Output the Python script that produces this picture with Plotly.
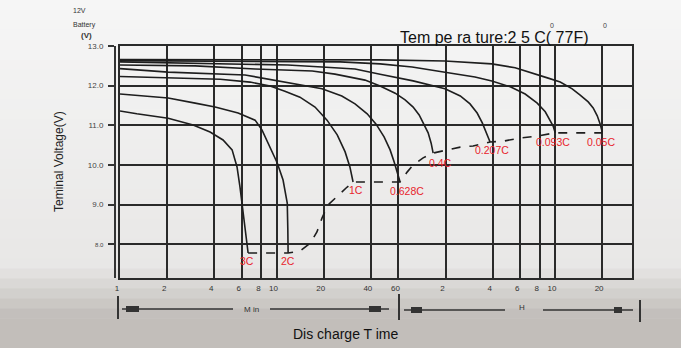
import math
import plotly.graph_objects as go

# ---------------- data (minutes, volts) ----------------
rates = ["3C", "2C", "1C", "0.628C", "0.4C", "0.207C", "0.093C", "0.05C"]

t_3c = [1, 1.28, 2.03, 2.93, 3.76, 4.55, 5.2, 5.59, 5.84, 6.11, 6.48, 6.58]
v_3c = [11.36, 11.29, 11.18, 11.01, 10.83, 10.63, 10.38, 9.95, 9.44, 8.79, 7.93, 7.78]

t_2c = [1, 1.51, 2.03, 3.02, 4.05, 5.68, 7.29, 8.08, 9.09, 10.1, 11.0, 11.7, 11.8, 11.85]
v_2c = [11.79, 11.74, 11.69, 11.56, 11.46, 11.31, 11.13, 10.88, 10.45, 10.05, 9.62, 9.04, 8.36, 7.78]

t_1c = [1, 2.09, 4.36, 6.77, 9.09, 11.3, 14.1, 17.6, 21.0, 24.4, 27.4, 29.4, 30.4, 30.8]
v_1c = [12.23, 12.20, 12.16, 12.09, 11.99, 11.86, 11.71, 11.46, 11.13, 10.76, 10.33, 9.95, 9.67, 9.57]

t_0628c = [1, 2.03, 6.29, 9.5, 14.1, 19.5, 26.1, 31.7, 37.9, 43.2, 48.6, 53.1, 56.3, 58.8, 61.5]
v_0628c = [12.43, 12.34, 12.27, 12.14, 12.02, 11.92, 11.74, 11.54, 11.29, 11.03, 10.71, 10.38, 10.08, 9.82, 9.57]

t_04c = [1, 3.02, 7.29, 16.9, 23.6, 36.7, 45.8, 57.2, 66.2, 74.5, 81.4, 86.3, 92.9, 97.1, 100]
v_04c = [12.52, 12.50, 12.42, 12.37, 12.29, 12.14, 11.99, 11.81, 11.64, 11.46, 11.26, 11.06, 10.81, 10.55, 10.30]

t_0207c = [1, 2.03, 4.36, 11.8, 19.5, 31.7, 45.8, 74.5, 119, 149, 172, 191, 206, 218, 231]
v_0207c = [12.60, 12.58, 12.55, 12.52, 12.47, 12.42, 12.29, 12.12, 11.92, 11.74, 11.54, 11.31, 11.06, 10.81, 10.58]

t_0093c = [1, 3.25, 10.5, 25.5, 45.8, 73.4, 119, 185, 237, 311, 387, 462, 520, 559, 584, 602]
v_0093c = [12.63, 12.62, 12.61, 12.60, 12.55, 12.47, 12.34, 12.22, 12.12, 11.97, 11.79, 11.56, 11.34, 11.13, 10.98, 10.81]

t_005c = [1, 6.77, 45.8, 119, 237, 334, 417, 543, 648, 773, 869, 978, 1052, 1117, 1167, 1202]
v_005c = [12.66, 12.66, 12.65, 12.62, 12.55, 12.45, 12.34, 12.19, 12.09, 11.92, 11.76, 11.59, 11.44, 11.24, 11.03, 10.83]

# final (end) voltage line, dashed
t_end = [6.58, 11.85, 14.1, 16.4, 18.1, 19.5, 21.3, 24.4, 27.8, 30.8, 61.5, 68.2, 74.5, 86.3,
         100, 123, 149, 180, 231, 280, 360, 462, 602, 1202]
v_end = [7.78, 7.78, 7.83, 8.03, 8.31, 8.66, 8.99, 9.22, 9.42, 9.57, 9.57, 9.82, 10.00, 10.18,
         10.30, 10.38, 10.45, 10.48, 10.58, 10.60, 10.68, 10.73, 10.81, 10.81]

x_tickvals = [1, 2, 4, 6, 8, 10, 20, 40, 60, 120, 240, 360, 480, 600, 1200]
x_ticktext = ["1", "2", "4", "6", "8", "10", "20", "40", "60", "2", "4", "6", "8", "10", "20"]
y_tickvals = [8, 9, 10, 11, 12, 13]
y_ticktext = ['<span style="font-size:6px">8.0</span>', "9.0", "10.0", "11.0", "12.0", "13.0"]

curves = [(t_3c, v_3c), (t_2c, v_2c), (t_1c, v_1c), (t_0628c, v_0628c),
          (t_04c, v_04c), (t_0207c, v_0207c), (t_0093c, v_0093c), (t_005c, v_005c)]
# label offsets (px) relative to each curve's end point
label_shift = [(-1, -8), (0, -8), (3, -8), (7, -9), (7, -10), (2, -8), (-2, -9), (-1, -10)]

# ---------------- layout geometry ----------------
W, H = 681, 348
ML, MR, MT, MB = 100, 49, 46, 70
PW = W - ML - MR
PH = H - MT - MB
DARK = "#2a2a2a"
FONT = "Liberation Sans, Arial, sans-serif"


def P(x, y):
    return (x - ML) / PW, (H - MB - y) / PH


fig = go.Figure()
for (t, v) in curves:
    fig.add_trace(go.Scatter(x=t, y=v, mode="lines", line=dict(color="#1e1e1e", width=1.6),
                             showlegend=False, hoverinfo="skip"))
fig.add_trace(go.Scatter(x=t_end, y=v_end, mode="lines", yaxis="y2",
                         line=dict(color="#1e1e1e", width=1.6, dash="dash"),
                         showlegend=False, hoverinfo="skip"))

annotations = []
for name, (t, v), (dx, dy) in zip(rates, curves, label_shift):
    annotations.append(dict(x=math.log10(t[-1]), y=v[-1], xref="x", yref="y", text=name,
                            showarrow=False, xshift=dx, yshift=dy,
                            font=dict(family=FONT, size=10.5, color="#e8242c")))


def txt(x, y, s, size, color="#222", **kw):
    px, py = P(x, y)
    d = dict(x=px, y=py, xref="paper", yref="paper", text=s, showarrow=False,
             font=dict(family=FONT, size=size, color=color), xanchor="center", yanchor="middle")
    d.update(kw)
    annotations.append(d)


txt(79, 10, "12V", 7, "#333")
txt(84, 25, "Battery", 7, "#333")
txt(86, 35, "<b>(V)</b>", 8, "#333")
txt(494, 37, "Tem pe ra ture:2 5 C( 77F)", 16, "#111")
txt(552, 25, "0", 7, "#444")
txt(605, 25, "0", 7, "#444")
txt(59, 162, "Teminal Voltage(V)", 12, "#222", textangle=-90)
txt(251, 309, "M in", 8, "#333")
txt(522, 307, "H", 8, "#333")
txt(346, 334, "Dis charge T ime", 14, "#111")

shapes = []
# background gradient bands (paper)
top_c = (246, 246, 246)
mid_c = (232, 231, 230)
bot_c = (194, 190, 186)
nb = 35
for i in range(nb):
    y0 = H * i / nb
    y1 = H * (i + 1) / nb
    ym = (y0 + y1) / 2
    if ym < 265:
        f = ym / 265
        c = [round(top_c[k] + (mid_c[k] - top_c[k]) * f) for k in range(3)]
    else:
        f = min(1.0, (ym - 265) / 50)
        c = [round(mid_c[k] + (bot_c[k] - mid_c[k]) * f) for k in range(3)]
    x0p, y0p = P(0, y0)
    x1p, y1p = P(W, y1 + 0.5)
    shapes.append(dict(type="rect", xref="paper", yref="paper", x0=x0p, x1=x1p, y0=y1p, y1=y0p,
                       fillcolor="rgb(%d,%d,%d)" % tuple(c), line=dict(width=0), layer="below"))


def seg(x0, y0, x1, y1, w=1.5, color="#333"):
    a = P(x0, y0)
    b = P(x1, y1)
    shapes.append(dict(type="line", xref="paper", yref="paper", x0=a[0], y0=a[1], x1=b[0], y1=b[1],
                       line=dict(color=color, width=w)))


def box(x0, y0, x1, y1, color="#333"):
    a = P(x0, y0)
    b = P(x1, y1)
    shapes.append(dict(type="rect", xref="paper", yref="paper", x0=a[0], y0=b[1], x1=b[0], y1=a[1],
                       fillcolor=color, line=dict(width=0)))


seg(118, 296, 118, 319, 2)
seg(122, 309, 233, 309)
seg(270, 309, 389, 309)
box(126, 306, 139, 312)
box(369, 306, 381, 312)
seg(399, 294, 399, 320, 2)
seg(404, 310, 505, 310)
seg(543, 310, 633, 310)
box(411, 307, 422, 313)
box(614, 307, 622, 313)
seg(640, 300, 640, 322, 2)

fig.update_layout(
    width=W, height=H,
    margin=dict(l=ML, r=MR, t=MT, b=MB, pad=0),
    paper_bgcolor="#efefef",
    plot_bgcolor="#f1f1f1",
    font=dict(family=FONT, color="#333"),
    showlegend=False,
    annotations=annotations,
    shapes=shapes,
    xaxis=dict(type="log", domain=[20 / PW, 1], range=[0, 3.27],
               tickvals=x_tickvals, ticktext=x_ticktext, ticks="",
               tickfont=dict(size=8, color="#333"), ticklabelstandoff=1, ticklabelshift=-3,
               showgrid=True, gridcolor=DARK, gridwidth=2,
               showline=True, mirror=True, linecolor=DARK, linewidth=2, zeroline=False),
    yaxis=dict(range=[7.15, 13.0], tickvals=[8, 9, 10, 11, 12], showticklabels=False, ticks="",
               showgrid=True, gridcolor=DARK, gridwidth=2,
               showline=True, mirror=True, linecolor=DARK, linewidth=2, zeroline=False),
    yaxis2=dict(range=[7.15, 13.0], overlaying="y", anchor="free", position=15 / PW, side="left",
                tickvals=y_tickvals, ticktext=y_ticktext, ticks="outside", ticklen=6,
                tickwidth=2, tickcolor="#333", tickfont=dict(size=8, color="#444"),
                ticklabelstandoff=3,
                showgrid=False, showline=True, linecolor="#333", linewidth=2, zeroline=False),
)

fig.write_html("out.html")
